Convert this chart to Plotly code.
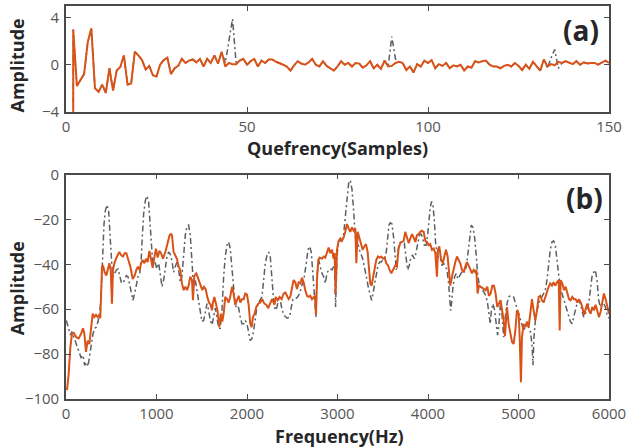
import plotly.graph_objects as go

# ---------------- (a) cepstrum ----------------
quef_x = [2] + list(range(2, 151))
quef_orange = [-8.0,
    3.0, -1.8, -1.3, -0.8, 1.9, 3.1, -2.0, -2.3, -1.7, -2.4,
    -0.3, -2.2, -0.5, -0.2, 0.8, -1.7, -1.6, 1.1, 0.8, 0.4,
    -0.4, -0.1, -0.9, -1.0, 0.0, 0.4, 0.6, -0.8, -0.3, -0.1,
    0.5, 0.15, 0.35, 0.45, 0.2, 0.5, -0.15, 0.5, 0.15, 0.8,
    0.1, 1.1, -0.15, 0.15, 0.05, 0.05, 0.35, 0.5, 0.0, 0.3,
    0.5, -0.15, 0.35, 0.15, 0.45, 0.45, 0.25, 0.15, 0.0, -0.15,
    -0.5, -0.05, 0.3, 0.1, 0.0, 0.2, 0.5, 0.0, -0.15, 0.3,
    -0.1, -0.3, -0.5, -0.15, 0.3, 0.0, 0.15, -0.15, 0.15, 0.1,
    -0.25, -0.05, 0.3, -0.3, 0.0, -0.35, 0.35, -0.15, -0.1, 0.15,
    0.25, 0.15, -0.45, -0.15, -0.65, 0.05, -0.15, 0.35, 0.15, 0.4,
    -0.3, 0.05, -0.1, 0.15, -0.3, -0.05, -0.15, 0.0, -0.5, -0.15,
    -0.25, 0.3, 0.2, 0.3, 0.35, 0.0, -0.15, -0.15, -0.3, -0.1,
    0.0, -0.15, 0.15, -0.1, -0.45, 0.0, -0.35, 0.25, -0.15, -0.5,
    0.45, -0.15, 0.05, -0.05, 0.25, 0.15, 0.3, 0.15, 0.05, 0.3,
    0.0, 0.2, 0.1, 0.15, 0.15, 0.0, 0.2, 0.35, 0.15]
# reference (gray) cepstrum: same as above except at the rahmonic peaks
quef_gray_peaks = {44: 0.15, 45: 2.0, 46: 3.9, 47: 0.1,
                   90: 2.4, 91: 0.5,
                   133: -0.3, 134: 0.6, 135: 1.3, 136: -0.3}
quef_gray = list(quef_orange)
for s, v in quef_gray_peaks.items():
    quef_gray[s - 1] = v  # index: first entry is the duplicate x=2 point

# ---------------- (b) spectrum ----------------
freq_orange = [11, 29, 48, 66, 85, 114, 140, 166, 188, 203, 221, 239, 258, 276, 295, 313, 331, 350, 368, 379,
    390, 398, 409, 427, 446, 464, 479, 494, 508, 519, 538, 563, 589, 611, 630, 648, 667, 685, 711, 737,
    759, 777, 795, 814, 829, 847, 866, 884, 902, 921, 939, 958, 976, 994, 1013, 1031, 1050, 1072, 1098, 1123,
    1145, 1160, 1171, 1189, 1208, 1226, 1245, 1263, 1281, 1300, 1318, 1337, 1355, 1373, 1392, 1403, 1418, 1440, 1462, 1484,
    1506, 1524, 1543, 1561, 1580, 1598, 1613, 1624, 1639, 1657, 1675, 1694, 1712, 1727, 1742, 1760, 1779, 1797, 1815, 1834,
    1852, 1871, 1889, 1908, 1926, 1944, 1963, 1981, 2000, 2018, 2036, 2051, 2066, 2084, 2103, 2125, 2147, 2169, 2191, 2213,
    2235, 2257, 2276, 2294, 2305, 2316, 2338, 2360, 2383, 2405, 2423, 2442, 2460, 2478, 2497, 2515, 2534, 2552, 2571, 2589,
    2607, 2626, 2644, 2663, 2681, 2699, 2718, 2736, 2751, 2762, 2773, 2788, 2803, 2828, 2847, 2865, 2884, 2902, 2920, 2939,
    2957, 2968, 2979, 2994, 3012, 3031, 3049, 3068, 3086, 3105, 3123, 3141, 3160, 3178, 3197, 3208, 3223, 3241, 3259, 3278,
    3296, 3315, 3333, 3348, 3362, 3377, 3392, 3410, 3429, 3447, 3466, 3484, 3502, 3521, 3539, 3558, 3576, 3595, 3613, 3639,
    3657, 3675, 3694, 3712, 3731, 3749, 3768, 3786, 3804, 3823, 3841, 3860, 3878, 3896, 3915, 3933, 3952, 3970, 3989, 4007,
    4025, 4044, 4062, 4081, 4099, 4110, 4125, 4143, 4162, 4180, 4199, 4217, 4232, 4246, 4265, 4283, 4302, 4320, 4338, 4357,
    4375, 4394, 4412, 4430, 4449, 4467, 4486, 4504, 4523, 4534, 4548, 4563, 4581, 4600, 4618, 4637, 4655, 4673, 4692, 4710,
    4729, 4747, 4765, 4784, 4802, 4817, 4836, 4850, 4862, 4873, 4891, 4909, 4928, 4946, 4965, 4983, 5002, 5013, 5027, 5038,
    5057, 5075, 5094, 5112, 5130, 5149, 5167, 5186, 5204, 5223, 5241, 5259, 5278, 5296, 5315, 5333, 5351, 5370, 5388, 5407,
    5425, 5444, 5455, 5466, 5484, 5503, 5521, 5539, 5558, 5576, 5595, 5613, 5631, 5650, 5668, 5687, 5705, 5723, 5742, 5760,
    5779, 5797, 5815, 5834, 5852, 5871, 5889, 5908, 5926, 5944, 5963, 5981, 6000]
amp_orange = [-96, -89, -77, -71, -70.5, -72.5, -73, -71, -68.5, -71, -79, -74, -75.5, -69.5, -62, -63.5, -62.5, -63.5, -62.5, -64,
    -54.5, -41, -40.5, -43.5, -45, -42.5, -39.5, -42.5, -57.5, -42.5, -39, -36.5, -34.5, -36, -36.5, -35, -35, -37.5, -41, -46.5,
    -45, -42.5, -41, -42.5, -39.5, -38, -39.5, -37.5, -39, -34, -38, -41.5, -37, -33, -37, -34, -35, -37.5, -34.5, -30,
    -27, -26.5, -27, -34.5, -36, -37.5, -41, -42.5, -48.5, -51.5, -50, -51.5, -49.5, -45.5, -47, -56, -45, -44, -46.5, -49.5,
    -51.5, -50, -51, -54.5, -57, -58, -60.5, -57, -54.5, -57.5, -61, -68, -62, -65.5, -62, -54.5, -55.5, -57, -54.5, -50,
    -53, -58, -55.5, -54, -57, -55.5, -55.5, -53, -53.5, -58, -66.5, -68, -63.5, -62, -59, -57.5, -57, -55.5, -57.5, -58,
    -59.5, -57.5, -55.5, -57, -58, -54.5, -56, -54.5, -55.5, -53, -52.5, -54, -55.5, -54.5, -51, -47, -48, -51, -48, -48.5,
    -46, -48, -51.5, -54, -54.5, -54, -55.5, -54.5, -54, -62.5, -47, -38, -37, -37.5, -36.5, -37, -34.5, -32.5, -35, -33.5,
    -37.5, -35, -53, -33.5, -29.5, -28.5, -29.5, -28, -25.5, -22, -24, -25.5, -23.5, -25, -24, -39.5, -25.5, -28, -31.5, -33.5,
    -32, -31, -34.5, -41, -48.5, -49.5, -45.5, -42, -38, -36.5, -37, -36.5, -37.5, -37, -39.5, -40.5, -42.5, -44, -42.5, -40.5,
    -41, -33, -30.5, -30, -29.5, -25.5, -28, -30.5, -28.5, -26.5, -28, -30, -27, -26.5, -25.5, -25, -25.5, -29.5, -30, -31.5,
    -31, -33.5, -33, -35, -45.5, -33.5, -32, -37.5, -39.5, -36, -33.5, -36.5, -42.5, -49.5, -45.5, -42, -39, -36.5, -38, -39.5,
    -42.5, -43.5, -41, -39, -40.5, -42, -44, -42.5, -43.5, -42.5, -53, -49.5, -50, -50.5, -51, -51.5, -50, -54, -53, -49.5,
    -49.5, -53, -59, -57, -56, -60, -65, -72, -62, -59, -66.5, -71, -74.5, -75.5, -69.5, -60.5, -62, -72.5, -92.5, -72.5,
    -66.5, -68, -65.5, -68, -60.5, -55.5, -60.5, -65, -60.5, -54.5, -54, -56, -57, -54.5, -52.5, -50, -48.5, -49.5, -48, -49.5,
    -48, -47, -69.5, -47, -48.5, -51.5, -50, -52.5, -55.5, -56, -54.5, -55.5, -55.5, -57, -55.5, -57, -59, -62.5, -59.5, -57.5,
    -60.5, -62, -59, -60.5, -58, -60.5, -63.5, -61, -57, -53, -55.5, -59, -62]

freq_gray = [4, 29, 48, 66, 103, 140, 166, 188, 206, 225, 243, 262, 280, 298, 317, 335, 354, 372, 387, 398,
    409, 420, 435, 453, 471, 482, 494, 508, 519, 538, 556, 575, 593, 611, 630, 648, 667, 685, 703, 722,
    740, 759, 777, 795, 814, 829, 843, 858, 877, 895, 913, 928, 943, 958, 972, 987, 1005, 1024, 1042, 1061,
    1079, 1098, 1116, 1134, 1153, 1171, 1189, 1208, 1226, 1245, 1263, 1281, 1300, 1318, 1337, 1355, 1373, 1392, 1410, 1429,
    1447, 1466, 1484, 1502, 1521, 1539, 1558, 1576, 1594, 1613, 1631, 1650, 1668, 1686, 1705, 1723, 1742, 1760, 1779, 1797,
    1815, 1834, 1852, 1871, 1889, 1908, 1926, 1944, 1963, 1981, 2000, 2018, 2036, 2055, 2073, 2092, 2110, 2129, 2147, 2165,
    2184, 2202, 2221, 2239, 2257, 2276, 2294, 2313, 2331, 2350, 2368, 2386, 2405, 2442, 2471, 2490, 2508, 2534, 2560, 2582,
    2607, 2633, 2655, 2674, 2692, 2710, 2725, 2740, 2755, 2762, 2773, 2792, 2810, 2828, 2847, 2865, 2884, 2902, 2920, 2939,
    2957, 2968, 2979, 2994, 3012, 3031, 3049, 3068, 3086, 3105, 3123, 3141, 3160, 3178, 3197, 3215, 3234, 3252, 3271, 3289,
    3307, 3326, 3344, 3362, 3377, 3392, 3410, 3429, 3447, 3466, 3484, 3502, 3521, 3539, 3554, 3569, 3583, 3602, 3620, 3639,
    3650, 3665, 3683, 3701, 3720, 3738, 3757, 3775, 3793, 3812, 3830, 3849, 3867, 3885, 3904, 3922, 3941, 3959, 3978, 3996,
    4011, 4025, 4040, 4055, 4070, 4084, 4099, 4117, 4136, 4154, 4173, 4191, 4210, 4228, 4239, 4250, 4261, 4276, 4294, 4313,
    4331, 4349, 4368, 4386, 4405, 4423, 4442, 4460, 4478, 4497, 4515, 4534, 4548, 4567, 4585, 4604, 4622, 4640, 4659, 4677,
    4688, 4700, 4718, 4736, 4755, 4769, 4784, 4799, 4817, 4836, 4854, 4873, 4891, 4909, 4928, 4946, 4965, 4983, 5002, 5020,
    5038, 5057, 5075, 5094, 5112, 5130, 5149, 5160, 5171, 5186, 5204, 5223, 5241, 5259, 5278, 5296, 5315, 5333, 5351, 5370,
    5388, 5407, 5425, 5444, 5462, 5481, 5499, 5518, 5536, 5555, 5573, 5592, 5610, 5628, 5647, 5665, 5684, 5702, 5720, 5739,
    5757, 5776, 5794, 5812, 5831, 5849, 5868, 5886, 5905, 5923, 5942, 5960, 5979, 6000]
amp_gray = [-65, -69.5, -71.5, -70, -74.5, -79, -81.5, -80.5, -85, -83.5, -85.5, -80.5, -75.5, -71, -68.5, -68, -65.5, -62, -54.5, -41,
    -32, -22, -16, -13.5, -16, -22, -32, -41, -45.5, -44, -42.5, -42, -45.5, -48, -48.5, -46.5, -45, -45.5, -48.5, -53,
    -56, -53, -48.5, -45.5, -44, -39.5, -28, -17.5, -11.5, -9.5, -12, -20.5, -33.5, -39.5, -37.5, -39.5, -42, -39.5, -45.5, -50,
    -47, -41, -36.5, -34.5, -35.5, -38.5, -43.5, -41, -39, -42.5, -48, -45.5, -35, -27, -23, -22.5, -27, -39.5, -50, -47,
    -51.5, -57.5, -62, -65.5, -65, -60.5, -57.5, -60.5, -65, -67, -63.5, -59.5, -63.5, -68.5, -68.5, -60.5, -45.5, -36.5, -31.5, -30,
    -33, -42.5, -53, -59, -58, -59.5, -63.5, -66.5, -66.5, -65, -66.5, -71, -74, -73, -69.5, -64, -59, -57, -56, -54.5,
    -47, -39.5, -36, -34.5, -36.5, -45.5, -56, -60.5, -59, -55.5, -56, -60, -62.5, -64, -63.5, -59, -55.5, -55.5, -54.5, -53,
    -49.5, -45.5, -39.5, -33.5, -32, -34.5, -42.5, -53, -59, -63.5, -45.5, -38, -41, -44, -45.5, -48.5, -44, -42.5, -42, -42.5,
    -41, -42.5, -59, -36.5, -30, -29.5, -29.5, -26.5, -19, -10, -4, -2.5, -6.5, -16, -28, -30.5, -32, -35, -36.5, -39.5,
    -42.5, -47, -51, -54, -56, -53, -48.5, -44, -40.5, -39, -39, -38, -37.5, -34.5, -28, -22.5, -21.5, -22, -28, -38,
    -42.5, -35, -30.5, -30, -30, -30.5, -36.5, -42.5, -40.5, -36.5, -36, -37.5, -35, -30, -27, -26.5, -28, -31.5, -31.5, -27,
    -20.5, -14.5, -12, -13.5, -20.5, -30.5, -35, -37.5, -37.5, -40.5, -39.5, -41, -42.5, -48.5, -56, -60.5, -57, -50, -45.5, -44,
    -46.5, -45, -44, -42.5, -43.5, -41, -35, -27, -22.5, -23.5, -28, -36.5, -44, -49.5, -50, -51.5, -52.5, -54, -57.5, -62,
    -66.5, -60.5, -57.5, -60.5, -68, -71.5, -66.5, -58, -62, -72.5, -63.5, -57.5, -54.5, -54, -54, -54.5, -57, -59.5, -62, -65,
    -68, -69.5, -68, -66.5, -68, -69.5, -75.5, -85, -72.5, -65, -60.5, -57.5, -55.5, -54.5, -53, -51.5, -47, -41, -33.5, -30,
    -29.5, -31.5, -38, -47, -51, -53, -55.5, -57.5, -60.5, -62.5, -65.5, -66.5, -64, -60.5, -57.5, -56, -57.5, -60.5, -63.5, -62,
    -59.5, -57.5, -51.5, -45.5, -43.5, -42.5, -47, -56, -59, -57.5, -57.5, -59, -62.5, -64]

quef_ticks = [0, 50, 100, 150]
amp_a_ticks = [-4, 0, 4]
freq_ticks = [0, 1000, 2000, 3000, 4000, 5000, 6000]
amp_b_ticks = [-100, -80, -60, -40, -20, 0]

ORANGE = "#D95319"
GRAY = "#5a5f66"
FRAME = "#4a4a4a"
TICKFONT = dict(family="Open Sans, Noto Sans, sans-serif", size=15, color="#555555")
TITLEFONT = dict(family="Open Sans, Noto Sans, sans-serif", size=18, color="#262626")
DASH = "6px,3px,2px,3px"

fig = go.Figure()
fig.add_trace(go.Scatter(x=quef_x, y=quef_gray, mode="lines", xaxis="x", yaxis="y",
                         line=dict(color=GRAY, width=1.5, dash=DASH), showlegend=False))
fig.add_trace(go.Scatter(x=quef_x, y=quef_orange, mode="lines", xaxis="x", yaxis="y",
                         line=dict(color=ORANGE, width=2), showlegend=False))
fig.add_trace(go.Scatter(x=freq_gray, y=amp_gray, mode="lines", xaxis="x2", yaxis="y2",
                         line=dict(color=GRAY, width=1.5, dash=DASH), showlegend=False))
fig.add_trace(go.Scatter(x=freq_orange, y=amp_orange, mode="lines", xaxis="x2", yaxis="y2",
                         line=dict(color=ORANGE, width=2), showlegend=False))

axis_common = dict(showline=True, linecolor=FRAME, linewidth=1.6, mirror="ticks",
                   ticks="inside", ticklen=5, tickwidth=1.2, tickcolor=FRAME,
                   showgrid=False, zeroline=False, tickfont=TICKFONT, automargin=False)
xstyle = dict(ticklabelstandoff=0, **axis_common)
ystyle = dict(ticklabelstandoff=2, **axis_common)

fig.update_layout(
    width=631, height=447,
    margin=dict(l=66, r=22, t=6, b=48, autoexpand=False),
    paper_bgcolor="white", plot_bgcolor="white",
    xaxis=dict(domain=[0, 1], anchor="y", range=[0, 150], tickvals=quef_ticks, **xstyle),
    yaxis=dict(domain=[0.731, 1], anchor="x", range=[-4, 5], tickvals=amp_a_ticks, **ystyle),
    xaxis2=dict(domain=[0, 1], anchor="y2", range=[0, 6000], tickvals=freq_ticks, **xstyle),
    yaxis2=dict(domain=[0, 0.571], anchor="x2", range=[-100, 0], tickvals=amp_b_ticks, **ystyle),
)

bold = "Open Sans, Noto Sans, sans-serif"
annots = [
    dict(text="<b>Quefrency(Samples)</b>", x=0.5, y=0.638, font=TITLEFONT),
    dict(text="<b>Frequency(Hz)</b>", x=0.503, y=-0.094, font=TITLEFONT),
    dict(text="<b>Amplitude</b>", x=-0.090, y=0.849, textangle=-90, font=TITLEFONT),
    dict(text="<b>Amplitude</b>", x=-0.090, y=0.282, textangle=-90, font=TITLEFONT),
    dict(text="<b>(a)</b>", x=0.948, y=0.938, font=dict(family=bold, size=28, color="#262626")),
    dict(text="<b>(b)</b>", x=0.954, y=0.511, font=dict(family=bold, size=28, color="#262626")),
]
for a in annots:
    fig.add_annotation(xref="paper", yref="paper", showarrow=False,
                       xanchor="center", yanchor="middle", **a)

fig.write_html("out.html", config={"displayModeBar": False},
               post_script="document.body.style.margin='0';document.body.style.overflow='hidden';")
